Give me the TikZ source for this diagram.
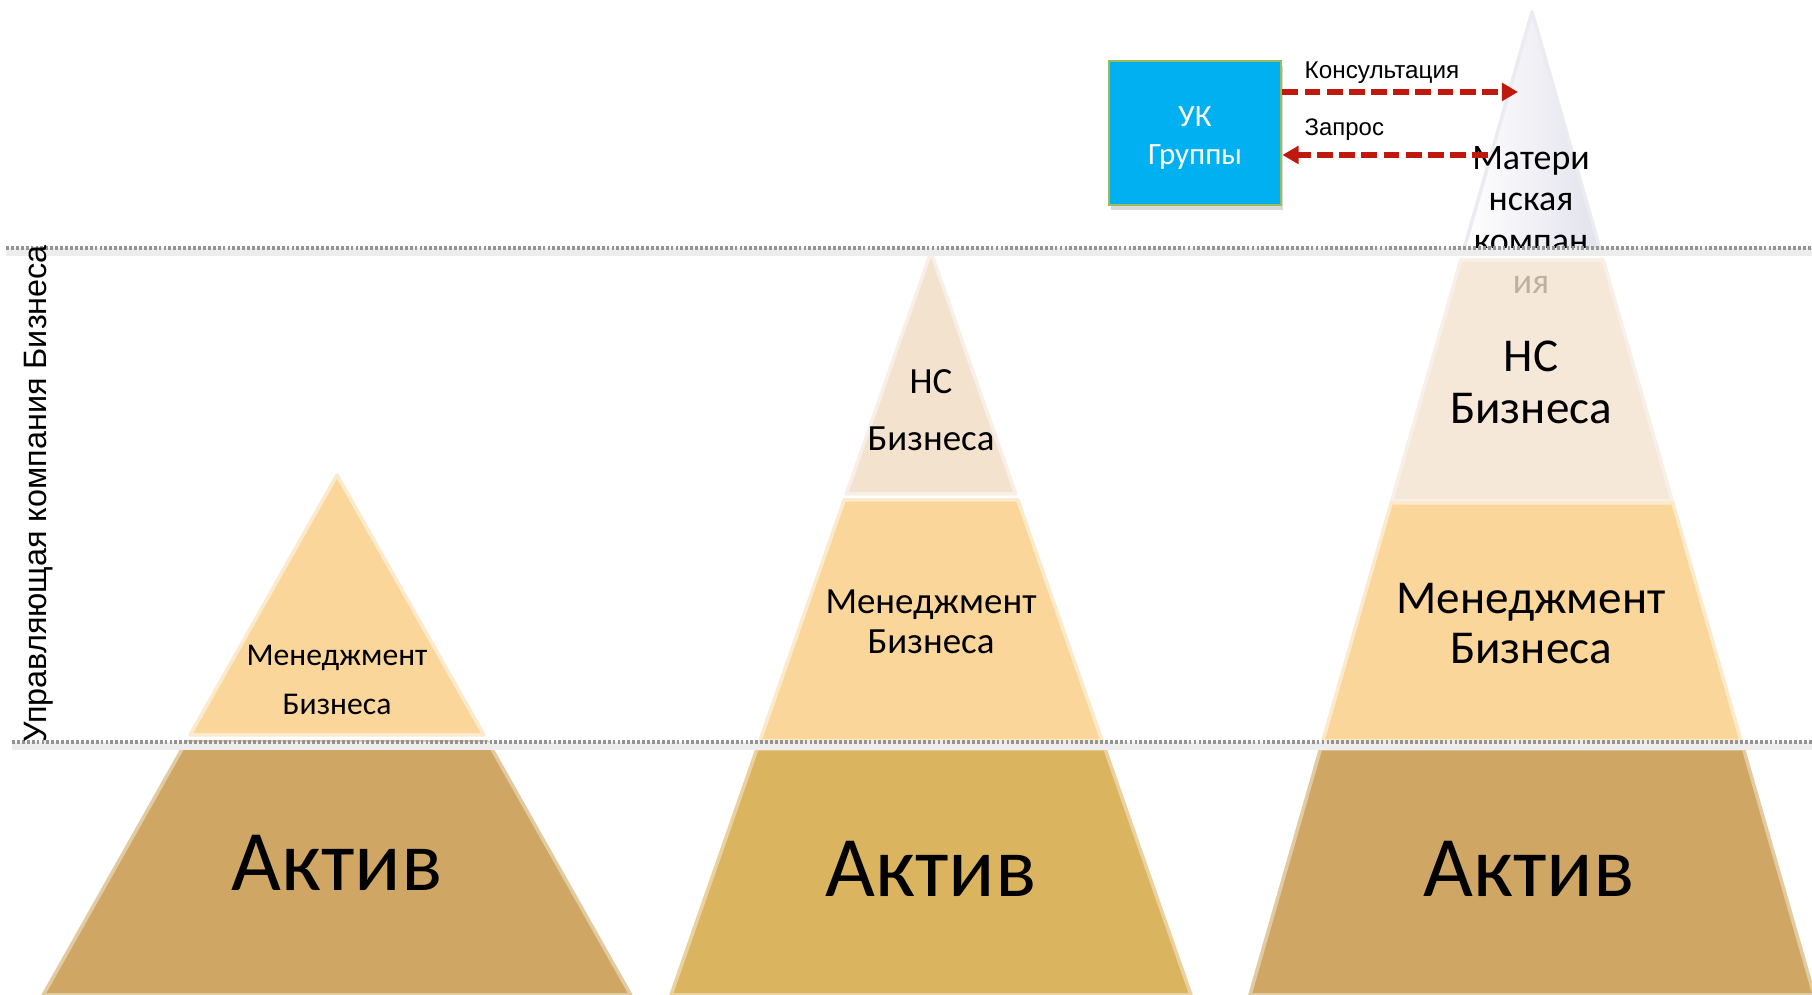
\documentclass[tikz,border=0pt]{standalone}
\usepackage{fontspec}
\setmainfont{Carlito}
\newfontfamily\arialfont{Liberation Sans}
\usetikzlibrary{arrows.meta,shadows}
\definecolor{aktiv}{RGB}{207,166,100}
\definecolor{aktivmid}{RGB}{219,180,96}
\definecolor{mgmt}{RGB}{250,214,155}
\definecolor{nsbiz}{RGB}{242,226,206}
\definecolor{parent}{RGB}{226,226,236}
\definecolor{ukblue}{RGB}{0,176,240}
\definecolor{ukrim}{RGB}{155,187,89}
\definecolor{arrowred}{RGB}{192,24,12}

\begin{document}
\begin{tikzpicture}[x=0.01cm,y=0.01cm,
  layer/.style={line width=1pt,line join=round},
  txt/.style={align=center,inner sep=0pt},
  guide/.style={draw=gray!85,line width=0.9pt,dash pattern=on 0.8pt off 0.6pt},
  flow/.style={draw=arrowred,line width=1.5pt,dash pattern=on 4.5pt off 1.8pt,-{Triangle[length=4.6pt,width=5pt]}}]
\useasboundingbox (0,0) rectangle (1812,995);

% left pyramid
\filldraw[layer,fill=mgmt,draw=mgmt!50!white] (337,520) -- (483.9,260) -- (190.1,260) -- cycle;
\filldraw[layer,fill=aktiv,draw=aktiv!60!white] (186.1,253) -- (487.9,253) -- (630.8,0) -- (43.2,0) -- cycle;
\node[txt,font=\fontsize{9}{13.7}\selectfont] (mgmtL) at (337,315) {Менеджмент\\Бизнеса};
\node[txt,font=\fontsize{24.5}{28}\selectfont] (aktivL) at (337,132) {Актив};

% middle pyramid
\filldraw[layer,fill=nsbiz,draw=nsbiz!50!white] (931,743) -- (1015.7,501) -- (846.3,501) -- cycle;
\filldraw[layer,fill=mgmt,draw=mgmt!50!white] (844.2,495) -- (1017.8,495) -- (1102.2,254) -- (759.8,254) -- cycle;
\filldraw[layer,fill=aktivmid,draw=aktivmid!60!white] (757,246) -- (1105,246) -- (1191,0) -- (671,0) -- cycle;
\node[txt,font=\fontsize{10.5}{16.2}\selectfont] (nsM) at (931,585) {НС\\Бизнеса};
\node[txt,font=\fontsize{10.5}{11.4}\selectfont] (mgmtM) at (931,373) {Менеджмент\\Бизнеса};
\node[txt,font=\fontsize{24.5}{28}\selectfont] (aktivM) at (931,126) {Актив};

% right pyramid
\filldraw[layer,left color=white,right color=parent,draw=parent!70!white] (1532,983) -- (1600.3,745) -- (1463.7,745) -- cycle;
\node[txt,font=\fontsize{10.2}{11.7}\selectfont] (matR) at (1531,775) {Матери\\нская\\компан\\ия};
\filldraw[layer,fill=nsbiz,fill opacity=0.78,draw=nsbiz!50!white] (1460.8,735) -- (1603.2,735) -- (1672.3,494) -- (1391.7,494) -- cycle;
\filldraw[layer,fill=mgmt,draw=mgmt!50!white] (1391.1,492) -- (1672.9,492) -- (1741.2,254) -- (1322.8,254) -- cycle;
\filldraw[layer,fill=aktiv,draw=aktiv!60!white] (1320.5,246) -- (1743.5,246) -- (1814.1,0) -- (1249.9,0) -- cycle;
\node[txt,font=\fontsize{13.4}{14.8}\selectfont] (nsR) at (1531,613) {НС\\Бизнеса};
\node[txt,font=\fontsize{13.4}{14.2}\selectfont] (mgmtR) at (1531,371) {Менеджмент\\Бизнеса};
\node[txt,font=\fontsize{24.5}{28}\selectfont] (aktivR) at (1529,126) {Актив};

% level lines
\draw[black!7,line width=2.5pt] (6,743) -- (1812,743);
\draw[black!7,line width=2.5pt] (12,249) -- (1812,249);
\draw[guide] (6,747) -- (1812,747);
\draw[guide] (12,253) -- (1812,253);
\node[txt,rotate=90,font=\arialfont\fontsize{9.2}{11}\selectfont] (ukBiz) at (39,501) {Управляющая компания Бизнеса};

% group company
\node[fill=ukblue,draw=ukrim,line width=0.8pt,minimum width=1.72cm,minimum height=1.44cm,
  drop shadow={opacity=0.3,shadow xshift=0.5pt,shadow yshift=-1.5pt}] (uk) at (1195,862) {};
\node[txt,text=white,font=\fontsize{8.8}{10.8}\selectfont] (ukTxt) at ([yshift=-1.4pt]uk.center) {УК\\Группы};
\coordinate (konsTip) at (1518,903);
\coordinate (zaprFrom) at (1488,840);
\draw[flow] (uk.east |- konsTip) -- (konsTip);
\draw[flow] (zaprFrom) -- (uk.east |- zaprFrom);
\node[txt,anchor=west,font=\arialfont\fontsize{6.9}{8}\selectfont] (kons) at (1304,922) {Консультация};
\node[txt,anchor=west,font=\arialfont\fontsize{6.8}{8}\selectfont] (zapr) at (1304,865) {Запрос};
\end{tikzpicture}
\end{document}
